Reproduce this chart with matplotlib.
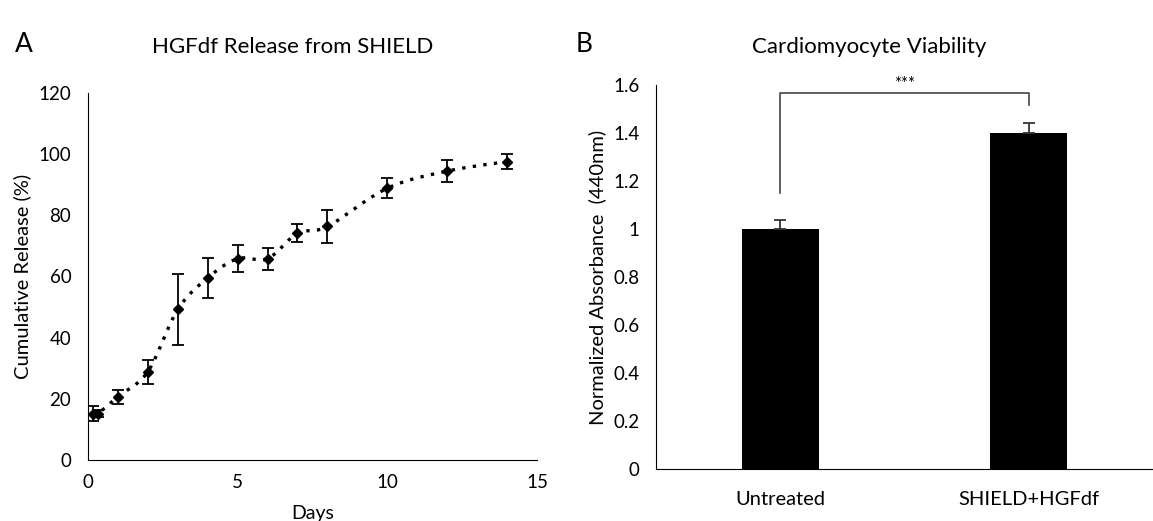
import numpy as np
import matplotlib
matplotlib.use("Agg")
import matplotlib.pyplot as plt

plt.rcParams['font.family'] = ['Lato', 'DejaVu Sans']

# パネルA: 放出データ
days = [0.17, 0.33, 1, 2, 3, 4, 5, 6, 7, 8, 10, 12, 14]
release = [15.2, 15.2, 20.7, 28.9, 49.2, 59.5, 65.8, 65.8, 74.1, 76.3, 88.8, 94.4, 97.5]
release_err = [2.3, 1.0, 2.3, 3.9, 11.5, 6.4, 4.4, 3.6, 2.9, 5.3, 3.2, 3.6, 2.5]

# パネルB: 生存率データ
groups = ['Untreated', 'SHIELD+HGFdf']
absorbance = [1.0, 1.40]
absorbance_err = [0.036, 0.04]


# Excel風の平滑線 (Catmull-Rom)
def smooth(x, y, n=20):
    x = np.asarray(x, float)
    y = np.asarray(y, float)
    px = np.concatenate([[x[0]], x, [x[-1]]])
    py = np.concatenate([[y[0]], y, [y[-1]]])
    t = np.linspace(0, 1, n)
    xs, ys = [], []
    for i in range(1, len(px) - 2):
        for p, out in ((px, xs), (py, ys)):
            p0, p1, p2, p3 = p[i - 1], p[i], p[i + 1], p[i + 2]
            out.extend(0.5 * ((2 * p1) + (-p0 + p2) * t
                              + (2 * p0 - 5 * p1 + 4 * p2 - p3) * t ** 2
                              + (-p0 + 3 * p1 - 3 * p2 + p3) * t ** 3))
    return np.array(xs), np.array(ys)


fig = plt.figure(figsize=(11.53, 5.21), dpi=100)

# --- A ---
ax1 = fig.add_axes([0.0763, 0.117, 0.3894, 0.705])
sx, sy = smooth(days, release)
ax1.plot(sx, sy, color='black', linestyle=(0, (1, 2.2)), linewidth=2.4)
ax1.errorbar(days, release, yerr=release_err, fmt='D', color='black',
             markersize=5, capsize=4, elinewidth=1.3, capthick=1.3)
ax1.set_xlim(0, 15)
ax1.set_ylim(0, 120)
ax1.set_xticks([0, 5, 10, 15])
ax1.set_yticks(range(0, 121, 20))
ax1.spines['top'].set_visible(False)
ax1.spines['right'].set_visible(False)
ax1.tick_params(length=0, labelsize=13.5)
ax1.tick_params(axis='y', pad=12)
ax1.tick_params(axis='x', pad=10)
ax1.set_xlabel('Days', fontsize=14, labelpad=10)
ax1.set_ylabel('Cumulative Release (%)', fontsize=14.5, labelpad=5)
fig.text(0.254, 0.91, 'HGFdf Release from SHIELD', fontsize=16,
         ha='center', va='center')
fig.text(0.013, 0.915, 'A', fontsize=19, va='center')

# --- B ---
ax2 = fig.add_axes([0.569, 0.0998, 0.431, 0.737])
xpos = np.arange(len(groups))
ax2.bar(xpos, absorbance, width=0.31, color='black')
ax2.errorbar(xpos, absorbance, yerr=[[0, 0], absorbance_err], fmt='none',
             ecolor='#333333', capsize=4, elinewidth=1.3, capthick=1.3)
ax2.set_xlim(-0.5, 1.5)
ax2.set_ylim(0, 1.6)
ax2.set_xticks(xpos)
ax2.set_xticklabels(groups)
ax2.set_yticks([0, 0.2, 0.4, 0.6, 0.8, 1, 1.2, 1.4, 1.6])
ax2.set_yticklabels(['0', '0.2', '0.4', '0.6', '0.8', '1', '1.2', '1.4', '1.6'])
ax2.spines['top'].set_visible(False)
ax2.spines['right'].set_visible(False)
ax2.tick_params(length=0, labelsize=13.5)
ax2.tick_params(axis='y', pad=12)
ax2.tick_params(axis='x', labelsize=14.5, pad=16)
ax2.set_ylabel('Normalized Absorbance  (440nm)', fontsize=14.5, labelpad=5)
fig.text(0.754, 0.91, 'Cardiomyocyte Viability', fontsize=16,
         ha='center', va='center')
fig.text(0.499, 0.915, 'B', fontsize=19, va='center')

# 有意差ブラケット
ax2.plot([0, 0, 1, 1], [1.15, 1.565, 1.565, 1.516], color='#444444', linewidth=1.2)
ax2.text(0.5, 1.572, '***', ha='center', va='bottom', fontsize=12)

fig.savefig('out.png', dpi=100)
